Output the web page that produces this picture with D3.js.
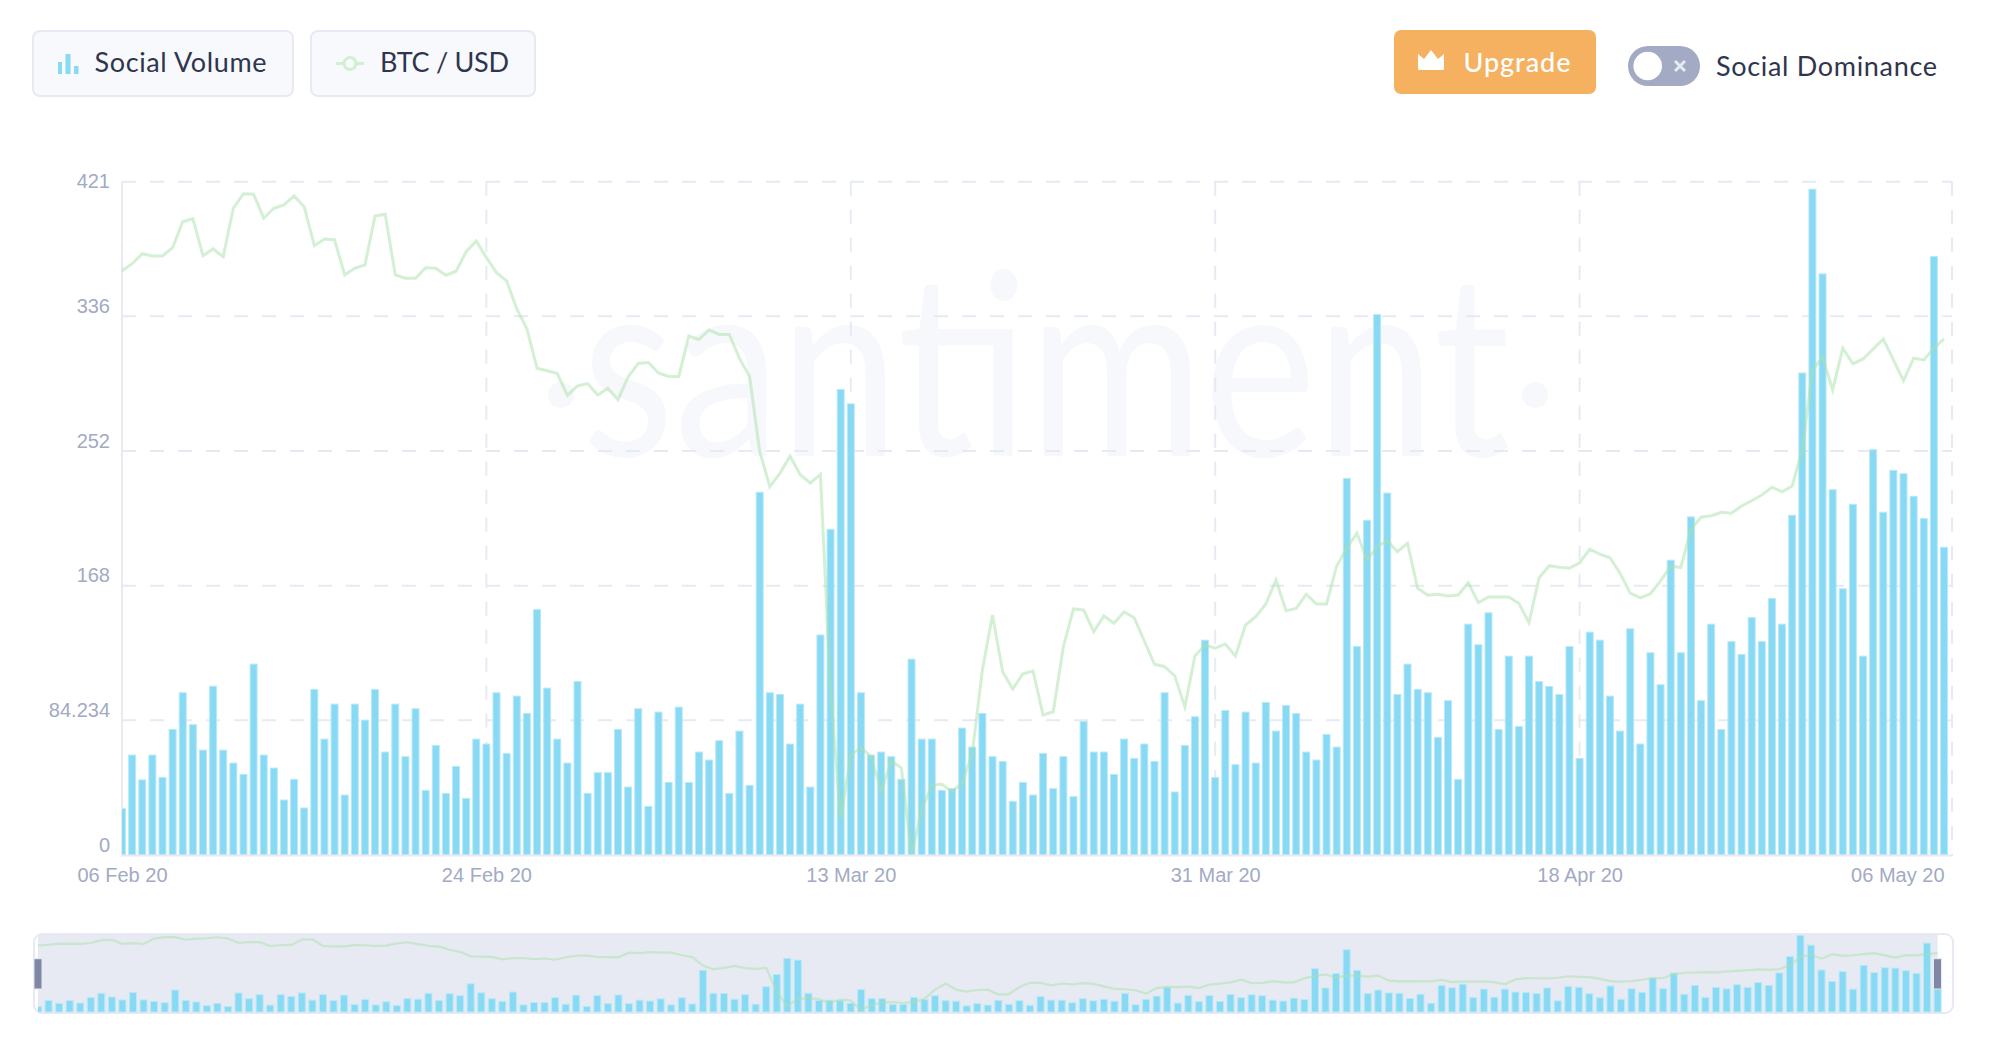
<!DOCTYPE html>
<html>
<head>
<meta charset="utf-8">
<style>
  html, body { margin: 0; padding: 0; background: #fff; }
  svg { display: block; }
  .legend-label { font-family: Lato, sans-serif; font-size: 27px; fill: #2f354d; }
  .axis text { font-family: "Liberation Sans", sans-serif; font-size: 20px; fill: #a2aac4; }
  .axis path, .axis line { display: none; }
</style>
</head>
<body>
<div id="chart"></div>
<script src="https://cdn.jsdelivr.net/npm/d3@7"></script>
<script>
const SIZE = { WIDTH: 1990, HEIGHT: 1040 },
      PLOT = { LEFT: 122, RIGHT: 1952, TOP: 181.7, BOTTOM: 855 },
      NAV = { LEFT: 38, RIGHT: 1937.6, TOP: 934, BOTTOM: 1013 },
      COLORS = { bar: '#88d9f3', barEdge: '#b9e9f8', line: '#a9e2a9', grid: '#e7eaf3', label: '#a2aac4' }

// one value every 12 hours, 06 Feb 20 to 06 May 20
const socialVolume = [
  29, 62.5, 47, 62.5, 48.5, 78.5, 101.5, 81.5, 65.6, 105.6,
  65.6, 57.5, 50.4, 119.4, 62.5, 54.4, 34.4, 47.3, 29.4, 103.5,
  72.5, 94.4, 37.5, 94.4, 84.4, 103.5, 64.4, 94.4, 61.5, 91.5,
  40.4, 68.5, 38.5, 55.4, 35.4, 72.5, 69.4, 101.5, 63.5, 99.4,
  88.5, 153.5, 104.4, 72.5, 57.5, 108.5, 38.5, 51.5, 51.5, 78.5,
  42.5, 91.5, 30.4, 89.4, 45.4, 92.5, 45.4, 64.4, 59.4, 71.5,
  38.5, 77.5, 43.5, 226.9, 101.5, 100.4, 69.4, 94.4, 42.5, 137.6,
  203.7, 291.2, 282.2, 101.5, 62.5, 64.4, 61.5, 47.3, 122.5, 72.5,
  72.5, 40.4, 41.5, 79.4, 67.5, 88.5, 61.5, 58.5, 33.5, 45.4,
  37.5, 63.5, 41.5, 61.5, 36.5, 83.5, 64.4, 64.4, 50.4, 72.5,
  60.4, 69.4, 58.5, 101.5, 39.4, 68.5, 86.5, 134.4, 48.5, 90.4,
  56.5, 89.4, 57.5, 95.4, 77.5, 93.5, 88.5, 64.4, 59.4, 75.4,
  67.5, 235.6, 130.4, 209.4, 338, 226.4, 100.4, 119.4, 103.5, 101.5,
  73.5, 96.5, 47.3, 144.4, 131.5, 151.5, 78.5, 124.4, 80.4, 124.4,
  108.5, 105.4, 100.4, 130.4, 60.4, 139.4, 134.4, 99.4, 77.5, 141.5,
  69.4, 126.5, 106.5, 184.4, 126.5, 211.5, 96.5, 144.4, 78.5, 133.5,
  125.4, 148.5, 133.5, 160.4, 144.4, 212.5, 301.5, 416.5, 363.5, 228.5,
  166.5, 219.4, 124.4, 253.5, 214.4, 240.6, 238.5, 224.4, 210.4, 374.4,
  192.5
]

const btcUsd = [
  9574, 9630, 9710, 9692, 9692, 9758, 9966, 9990, 9694, 9748,
  9686, 10074, 10190, 10186, 9994, 10074, 10100, 10172, 10086, 9774,
  9828, 9820, 9540, 9594, 9620, 10012, 10026, 9540, 9514, 9514,
  9598, 9594, 9538, 9570, 9726, 9812, 9678, 9558, 9492, 9268,
  9110, 8794, 8774, 8751, 8576, 8652, 8671, 8580, 8634, 8542,
  8724, 8832, 8840, 8756, 8728, 8728, 9052, 9024, 9100, 9064,
  9064, 8872, 8728, 8128, 7847, 7953, 8092, 7942, 7876, 7945,
  6212, 5190, 5700, 5759, 5687, 5406, 5652, 5596, 4900, 5260,
  5460, 5466, 5406, 5474, 5714, 6380, 6820, 6366, 6228, 6350,
  6372, 6020, 6046, 6566, 6868, 6860, 6686, 6812, 6754, 6844,
  6798, 6612, 6426, 6406, 6334, 6086, 6492, 6580, 6554, 6588,
  6492, 6740, 6806, 6908, 7100, 6854, 6872, 6986, 6908, 6908,
  7212, 7354, 7474, 7260, 7366, 7414, 7326, 7394, 7034, 6978,
  6986, 6972, 6980, 7078, 6918, 6964, 6964, 6964, 6914, 6758,
  7118, 7214, 7202, 7194, 7238, 7346, 7306, 7278, 7154, 6994,
  6956, 6990, 7092, 7212, 7200, 7506, 7602, 7614, 7642, 7634,
  7692, 7734, 7780, 7842, 7806, 7852, 8140, 8774, 8886, 8620,
  8954, 8830, 8868, 8948, 9028, 8860, 8694, 8874, 8860, 8954,
  9028
]

const xTickIndex = [0, 36, 72, 108, 144, 180],
      xTickLabels = ['06 Feb 20', '24 Feb 20', '13 Mar 20', '31 Mar 20', '18 Apr 20', '06 May 20'],
      yTickValues = [0, 84.234, 168.468, 252.702, 336.936, 421.17],
      yTickLabels = ['0', '84.234', '168', '252', '336', '421']

const xScale = d3.scaleLinear().domain([0, 180]).range([PLOT.LEFT, 1944]),
      yScale = d3.scaleLinear().domain([0, 421.17]).range([PLOT.BOTTOM, PLOT.TOP]),
      priceScale = d3.scaleLinear().domain([4900, 10286]).range([PLOT.BOTTOM, PLOT.TOP]),
      navX = d3.scaleLinear().domain([0, 180]).range([NAV.LEFT, NAV.RIGHT]),
      navY = d3.scaleLinear().domain([0, 421.17]).range([1012, 934.5]),
      navPrice = d3.scaleLinear().domain([4900, 10286]).range([1010, 935.7])

const svg = d3.select('#chart').append('svg')
  .attr('width', SIZE.WIDTH)
  .attr('height', SIZE.HEIGHT)

const defs = svg.append('defs')
defs.append('clipPath').attr('id', 'plot-clip').append('rect')
  .attr('x', PLOT.LEFT).attr('y', 0).attr('width', PLOT.RIGHT - PLOT.LEFT).attr('height', PLOT.BOTTOM)
defs.append('clipPath').attr('id', 'nav-clip').append('rect')
  .attr('x', NAV.LEFT).attr('y', NAV.TOP).attr('width', 1942 - NAV.LEFT).attr('height', NAV.BOTTOM - NAV.TOP)

const label = (x, y, width, text) => svg.append('text')
  .attr('class', 'legend-label')
  .attr('x', x).attr('y', y)
  .attr('textLength', width)
  .text(text)

const buildLegend = () => {
  const button = (x, width, height) => svg.append('rect')
    .attr('x', x).attr('y', 31).attr('width', width).attr('height', height).attr('rx', 7)
    .attr('fill', '#f8f9fc').attr('stroke', COLORS.grid).attr('stroke-width', 2)

  button(33, 260, 65)
  svg.append('path').attr('fill', COLORS.bar)
    .attr('d', 'M58 62h4v12h-4zM65.5 54h5v20h-5zM74 66h4.5v8H74z')
  label(94.5, 72, 172, 'Social Volume')

  button(311, 224, 65)
  svg.append('line').attr('x1', 336).attr('x2', 364).attr('y1', 63.5).attr('y2', 63.5)
    .attr('stroke', '#d0f0d0').attr('stroke-width', 3)
  svg.append('circle').attr('cx', 350).attr('cy', 63.5).attr('r', 6)
    .attr('fill', '#f8f9fc').attr('stroke', '#d0f0d0').attr('stroke-width', 3)
  label(380, 72, 129, 'BTC / USD')

  svg.append('rect').attr('x', 1394).attr('y', 30).attr('width', 202).attr('height', 64).attr('rx', 7)
    .attr('fill', '#f5b060')
  svg.append('path').attr('fill', '#fff')
    .attr('d', 'M1418 54l6 5 7-9 7 9 6-5v15a1 1 0 0 1-1 1h-24a1 1 0 0 1-1-1z')
  label(1463.5, 72, 107, 'Upgrade')
    .style('fill', '#fff').style('font-weight', 500)

  svg.append('rect').attr('x', 1628).attr('y', 46).attr('width', 72).attr('height', 40).attr('rx', 20)
    .attr('fill', COLORS.label)
  svg.append('circle').attr('cx', 1647.7).attr('cy', 66).attr('r', 14.3).attr('fill', '#fff')
  svg.append('path').attr('d', 'M1675 61l10 10M1685 61l-10 10')
    .attr('stroke', COLORS.grid).attr('stroke-width', 3)
  label(1716, 76, 221, 'Social Dominance')
}

const buildWatermark = () => {
  svg.append('text')
    .attr('x', 582).attr('y', 456)
    .attr('textLength', 928).attr('lengthAdjust', 'spacingAndGlyphs')
    .style('font-family', 'Lato, sans-serif').style('font-size', '255px').style('font-weight', 400)
    .attr('fill', '#f7f8fb')
    .text('santiment')
  svg.selectAll('circle.watermark-dot')
    .data([561, 1535])
    .enter()
    .append('circle')
    .attr('class', 'watermark-dot')
    .attr('cx', d => d).attr('cy', 395).attr('r', 13)
    .attr('fill', '#f7f8fb')
}

const buildGrid = () => {
  const grid = svg.append('g')
    .attr('stroke', COLORS.grid).attr('stroke-width', 2).attr('fill', 'none')
  grid.selectAll('line.h')
    .data(yTickValues.slice(1))
    .enter()
    .append('line')
    .attr('class', 'h')
    .attr('x1', PLOT.LEFT).attr('x2', PLOT.RIGHT)
    .attr('y1', d => yScale(d)).attr('y2', d => yScale(d))
    .attr('stroke-dasharray', '14 14')
  grid.selectAll('line.v')
    .data(xTickIndex.slice(1, -1).map(d => xScale(d)).concat(PLOT.RIGHT))
    .enter()
    .append('line')
    .attr('class', 'v')
    .attr('x1', d => d).attr('x2', d => d)
    .attr('y1', PLOT.TOP).attr('y2', PLOT.BOTTOM)
    .attr('stroke-dasharray', '14 14')
  grid.append('line')
    .attr('x1', PLOT.LEFT).attr('x2', PLOT.LEFT)
    .attr('y1', PLOT.TOP).attr('y2', PLOT.BOTTOM)
}

const drawSeries = (parent, x, y, price, barBase, lineWidth) => {
  parent.selectAll('rect')
    .data(socialVolume)
    .enter()
    .append('rect')
    .attr('x', (d, i) => x(i) - 3.5)
    .attr('y', d => y(d))
    .attr('width', 7)
    .attr('height', d => barBase - y(d))
    .attr('fill', COLORS.bar)
    .attr('stroke', COLORS.barEdge)
    .attr('stroke-width', 1)
  parent.append('path')
    .datum(btcUsd)
    .attr('fill', 'none')
    .attr('stroke', COLORS.line)
    .attr('stroke-opacity', 0.5)
    .attr('stroke-width', lineWidth)
    .attr('stroke-linejoin', 'miter')
    .attr('d', d3.line().x((d, i) => x(i)).y(d => price(d)))
}

const buildAxes = () => {
  const xAxis = d3.axisBottom(xScale)
    .tickValues(xTickIndex)
    .tickFormat((d, i) => xTickLabels[i])
    .tickSize(0)
  const gx = svg.append('g')
    .attr('class', 'axis')
    .attr('transform', `translate(0, ${PLOT.BOTTOM})`)
    .call(xAxis)
  gx.selectAll('text')
    .attr('y', 26.5).attr('dy', 0)
    .attr('text-anchor', (d, i) => i === xTickIndex.length - 1 ? 'end' : 'middle')

  const yAxis = d3.axisLeft(yScale)
    .tickValues(yTickValues)
    .tickFormat((d, i) => yTickLabels[i])
    .tickSize(0)
  const gy = svg.append('g')
    .attr('class', 'axis')
    .attr('transform', `translate(${PLOT.LEFT}, 0)`)
    .call(yAxis)
  gy.selectAll('text')
    .attr('x', -12).attr('dy', 0)
    .attr('y', (d, i) => i === yTickValues.length - 1 ? 6 : -4)

  // solid baseline sits over the bars
  svg.append('line')
    .attr('x1', PLOT.LEFT - 1).attr('x2', PLOT.RIGHT + 1)
    .attr('y1', PLOT.BOTTOM + 0.5).attr('y2', PLOT.BOTTOM + 0.5)
    .attr('stroke', COLORS.grid).attr('stroke-width', 2)
}

const buildNavigator = () => {
  svg.append('rect')
    .attr('x', 34).attr('y', 934).attr('width', 1919).attr('height', 79).attr('rx', 8)
    .attr('fill', '#fff').attr('stroke', COLORS.grid).attr('stroke-width', 2)
  svg.append('rect')
    .attr('x', NAV.LEFT).attr('y', NAV.TOP)
    .attr('width', NAV.RIGHT - NAV.LEFT).attr('height', NAV.BOTTOM - NAV.TOP)
    .attr('fill', COLORS.grid)
  const nav = svg.append('g').attr('clip-path', 'url(#nav-clip)')
  drawSeries(nav, navX, navY, navPrice, 1012, 2.2)
  svg.selectAll('rect.handle')
    .data([34, 1933.5])
    .enter()
    .append('rect')
    .attr('class', 'handle')
    .attr('x', d => d).attr('y', 958.7).attr('width', 8).attr('height', 30.3)
    .attr('fill', '#7f87a5').attr('stroke', COLORS.grid).attr('stroke-width', 1)
}

buildLegend()
buildWatermark()
buildGrid()
drawSeries(svg.append('g').attr('clip-path', 'url(#plot-clip)'), xScale, yScale, priceScale, PLOT.BOTTOM, 3)
buildAxes()
buildNavigator()
</script>
</body>
</html>
